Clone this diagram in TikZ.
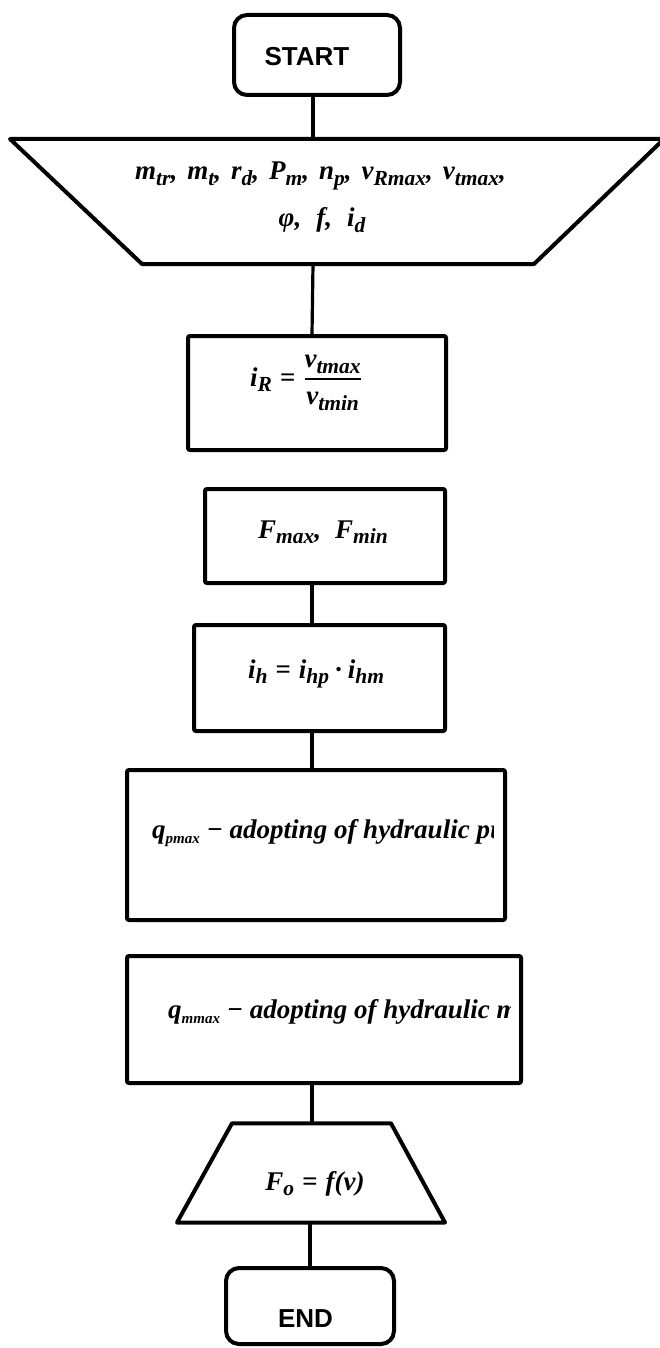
\RequirePackage{fix-cm}
\documentclass[tikz,border=0pt]{standalone}
\usepackage{amsmath}
\usepackage{fontspec}
\newfontfamily\lsans{Liberation Sans}
\newfontfamily\lserif{Liberation Serif}
\newcommand\sbs[1]{\raisebox{-5.5pt}{\fontsize{21.5}{21.5}\selectfont #1}}
\newcommand\sbq[1]{\raisebox{-5pt}{\fontsize{15}{15}\selectfont #1}}
\newcommand\cm[1][10pt]{,\hspace{#1}}
\newcommand\eq{\hspace{8pt}=\hspace{8pt}}
\begin{document}
\begin{tikzpicture}[x=1pt,y=-1pt,
  frame/.style={draw, line width=4pt, rounded corners=2pt, inner sep=0pt, fill=white},
  term/.style={draw, line width=4pt, rounded corners=13pt, inner sep=0pt, fill=white},
  trap/.style={draw, line width=4pt, line join=round},
  link/.style={line width=3.2pt},
  mtxt/.style={inner sep=0pt, font=\fontsize{27}{32}\selectfont\lserif\bfseries\itshape},
  ttxt/.style={inner sep=0pt, font=\fontsize{26}{31}\selectfont\lsans\bfseries}]
\useasboundingbox (0,0) rectangle (659,1348);

% input trapezoid corners
\coordinate (inTL) at (10,139);
\coordinate (inTR) at (664,139);
\coordinate (inBR) at (534,264);
\coordinate (inBL) at (142,264);
% output trapezoid corners
\coordinate (outTL) at (232,1123.3);
\coordinate (outTR) at (391,1123.3);
\coordinate (outBR) at (445,1222.5);
\coordinate (outBL) at (177,1222.5);

% shapes
\node[term, minimum width=166pt, minimum height=80pt] (start) at (317,55) {};
\draw[trap] (inTL) -- (inTR) -- (inBR) -- (inBL) -- cycle;
\node[frame, minimum width=258pt, minimum height=114pt] (ir) at (317,393) {};
\node[frame, minimum width=240pt, minimum height=94pt] (fm) at (325,536) {};
\node[frame, minimum width=251pt, minimum height=106pt] (ih) at (319.5,678) {};
\node[frame, minimum width=378pt, minimum height=150pt] (qp) at (316,845) {};
\node[frame, minimum width=394pt, minimum height=127pt] (qm) at (324,1019.5) {};
\draw[trap] (outTL) -- (outTR) -- (outBR) -- (outBL) -- cycle;
\node[term, minimum width=168pt, minimum height=76pt] (end) at (310,1306) {};

% connector x positions
\coordinate (c1) at (313,0);
\coordinate (c2) at (312,0);
\coordinate (c3) at (310,0);

% connectors
\draw[link] (c1 |- start.south) -- (c1 |- inTL);
\draw[link] (c1 |- inBL) -- (c2 |- ir.north);
\draw[link] (c2 |- fm.south) -- (c2 |- ih.north);
\draw[link] (c2 |- ih.south) -- (c2 |- qp.north);
\draw[link] (c2 |- qm.south) -- (c2 |- outTL);
\draw[link] (c3 |- outBL) -- (c3 |- end.north);

% texts
\node[ttxt, anchor=base] (tstart) at (307,66) {START};
\node[mtxt, anchor=base] (tin1) at (320.5,180) {m\sbs{tr}\cm m\sbs{t}\cm r\sbs{d}\cm P\sbs{m}\cm n\sbs{p}\cm v\sbs{Rmax}\cm v\sbs{tmax},};
\node[mtxt, anchor=base] (tin2) at (322,227) {φ\cm[15pt]f\cm[15pt]i\sbs{d}};
\node[mtxt, anchor=base] (tir) at (306,386) {i\sbs{R}\eq$\genfrac{}{}{1.6pt}{0}{\text{v\sbs{tmax}}}{\text{v\sbs{tmin}}}$};
\node[mtxt, anchor=base] (tfm) at (323,538) {F\sbs{max},\hspace{14pt}F\sbs{min}};
\node[mtxt, anchor=base] (tih) at (316,678) {i\sbs{h}\eq i\sbs{hp}\hspace{6pt}·\hspace{6pt}i\sbs{hm}};
\begin{scope}
  \clip (130,780) rectangle (493,900);
  \node[mtxt, anchor=base west] (tqp) at (152,838) {q\sbq{pmax} − adopting of hydraulic pump};
\end{scope}
\begin{scope}
  \clip (130,970) rectangle (510,1070);
  \node[mtxt, anchor=base west] (tqm) at (168,1018) {q\sbq{mmax} − adopting of hydraulic motor};
\end{scope}
\node[mtxt, anchor=base] (tout) at (315,1190) {F\sbs{o}\eq f(v)};
\node[ttxt, anchor=base] (tend) at (305.5,1327.7) {END};
\end{tikzpicture}
\end{document}
